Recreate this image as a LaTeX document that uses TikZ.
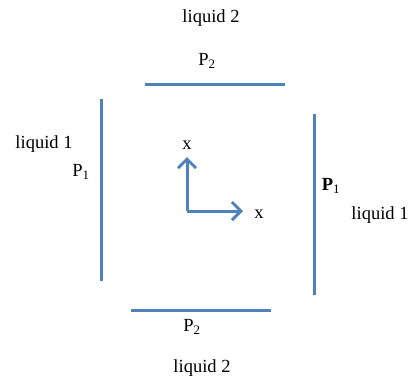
\documentclass[tikz,border=0pt]{standalone}
\usepackage{fontspec}
\setmainfont{Liberation Serif}
\usetikzlibrary{arrows.meta}
\definecolor{wall}{HTML}{4F81BD}
\begin{document}
\begin{tikzpicture}[x=1pt,y=-1pt,
  wallline/.style={draw=wall,line width=3pt},
  axis/.style={draw=wall,line width=3pt,-{Straight Barb[length=9pt,width=18pt,line width=3pt]}},
  lbl/.style={font=\fontsize{18.5}{22}\selectfont,inner sep=0pt}]
\useasboundingbox (0,0) rectangle (410,378);
% walls
\coordinate (t1) at (145,84); \coordinate (t2) at (285,84);
\coordinate (l1) at (101,99); \coordinate (l2) at (101,281);
\coordinate (r1) at (314,114); \coordinate (r2) at (314,295);
\coordinate (b1) at (131,310); \coordinate (b2) at (271,310);
\draw[wallline] (t1) -- (t2);
\draw[wallline] (l1) -- (l2);
\draw[wallline] (r1) -- (r2);
\draw[wallline] (b1) -- (b2);
% axes
\coordinate (o) at (187,211);
\coordinate (ay) at (187,157);
\coordinate (ax) at (243,211);
\draw[axis] (o) -- (ay);
\draw[axis] (o) -- (ax);
% labels
\node[lbl] (liqt) at (211,18) {liquid 2};
\node[lbl] (p2t) at (207,61) {P\textsubscript{2}};
\node[lbl] (liql) at (44,144) {liquid 1};
\node[lbl] (p1l) at (81,172) {P\textsubscript{1}};
\node[lbl] (p1r) at (331,186) {\textbf{P}\textsubscript{1}};
\node[lbl] (liqr) at (380,215) {liquid 1};
\node[lbl] (p2b) at (192,327) {P\textsubscript{2}};
\node[lbl] (liqb) at (202,368) {liquid 2};
\node[lbl] (xy) at (187,145) {x};
\node[lbl] (xx) at (259,214) {x};
\end{tikzpicture}
\end{document}
